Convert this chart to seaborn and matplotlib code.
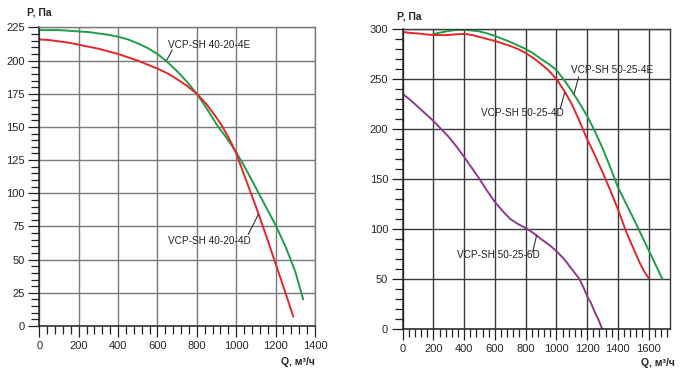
import numpy as np
import pandas as pd
import matplotlib
matplotlib.use('Agg')
import matplotlib.pyplot as plt
import seaborn as sns
from matplotlib.ticker import MultipleLocator

# left chart: VCP-SH 40-20
q_40_4e = [0, 50, 100, 150, 200, 250, 300, 350, 400, 450, 500, 550, 600, 650, 700, 750, 800,
           850, 900, 950, 1000, 1050, 1100, 1150, 1200, 1250, 1300, 1340]
p_40_4e = [223, 223, 223, 222.5, 222, 221.5, 220.5, 219.5, 218, 216, 213, 209.5, 205, 199, 192, 184, 175,
           164, 152, 142, 131, 118, 104, 90, 76, 60, 41, 20]
q_40_4d = [0, 50, 100, 150, 200, 250, 300, 350, 400, 450, 500, 550, 600, 650, 700, 750, 800,
           850, 875, 900, 925, 950, 975, 1000, 1050, 1100, 1150, 1200, 1250, 1290]
p_40_4d = [216, 215.5, 214.5, 213.5, 212, 210.5, 209, 207, 205, 202.5, 200, 197, 194, 190.5, 186, 181, 175,
           167, 162, 157, 151.5, 145, 138, 130, 110, 90, 69, 47, 25, 7]

# right chart: VCP-SH 50-25
q_50_4e = [200, 250, 300, 350, 400, 450, 500, 550, 600, 650, 700, 750, 800, 850, 900, 950, 1000,
           1050, 1100, 1150, 1200, 1250, 1300, 1350, 1400, 1500, 1600, 1690]
p_50_4e = [295, 296.5, 298, 299, 299, 298.5, 297.5, 295.5, 293, 290, 287, 283.5, 280, 275.5, 270, 265, 259,
           249, 238, 226, 213, 198, 181, 162, 142, 111, 79, 50]
q_50_4d = [0, 50, 100, 150, 200, 250, 300, 350, 400, 450, 500, 550, 600, 650, 700, 750, 800, 850, 900,
           950, 1000, 1050, 1100, 1150, 1200, 1250, 1300, 1350, 1400, 1450, 1500, 1540, 1570, 1600]
p_50_4d = [297, 296, 295.5, 294.5, 294, 293.8, 294, 294.7, 295, 294, 292, 290, 288, 285.5, 283, 280, 276, 271, 265,
           258.5, 250, 238.5, 225, 208, 190, 174, 157, 139, 120, 99, 81, 67, 58, 51]
q_50_6d = [0, 50, 100, 150, 200, 250, 300, 350, 400, 450, 500, 550, 600, 650, 700, 750, 800,
           850, 900, 950, 1000, 1050, 1100, 1150, 1175, 1200, 1225, 1250, 1275, 1298]
p_50_6d = [235, 229, 222, 215, 208, 200, 192, 182.5, 172, 161, 150, 138, 127, 118, 110, 105, 101,
           96, 90, 84.5, 78, 70, 60, 50, 42, 33, 26, 17, 9, 0]

GREEN = '#1f9e48'
RED = '#e3262b'
PURPLE = '#8e3a8c'

sns.set_style('white')
plt.rcParams['font.family'] = ['Liberation Sans', 'DejaVu Sans']

fig = plt.figure(figsize=(6.8, 3.76), dpi=100)
ax1 = fig.add_axes([0.0578, 0.133, 0.4054, 0.794])
ax2 = fig.add_axes([0.5922, 0.125, 0.3932, 0.798])


def style_axis(ax, xlim, ylim, xmaj, xmin, ymaj, ymin, gridcolor):
    ax.set_xlim(*xlim)
    ax.set_ylim(*ylim)
    ax.xaxis.set_major_locator(MultipleLocator(xmaj))
    ax.xaxis.set_minor_locator(MultipleLocator(xmin))
    ax.yaxis.set_major_locator(MultipleLocator(ymaj))
    ax.yaxis.set_minor_locator(MultipleLocator(ymin))
    ax.grid(True, which='major', color=gridcolor, lw=1.0)
    ax.set_axisbelow(True)
    ax.tick_params(which='major', direction='out', length=8, width=0.9,
                   color='#222222', labelsize=8, pad=2.5, left=True, bottom=True)
    ax.tick_params(which='minor', direction='out', length=5.5, width=0.9,
                   color='#222222', left=True, bottom=True)
    for side in ['left', 'bottom']:
        ax.spines[side].set_color('#222222')
        ax.spines[side].set_linewidth(1.1)
    for side in ['top', 'right']:
        ax.spines[side].set_color(gridcolor)
        ax.spines[side].set_linewidth(1.0)
    ax.set_xlabel('')
    ax.set_ylabel('')


def curve(ax, q, p, color):
    df = pd.DataFrame({'Q': q, 'P': p})
    sns.lineplot(data=df, x='Q', y='P', ax=ax, color=color, lw=1.4,
                 sort=False, estimator=None, solid_joinstyle='round')


def label(ax, text, txy, line):
    ax.text(txy[0], txy[1], text, fontsize=7.2, ha='left', va='center', color='#222222')
    ax.plot([line[0], line[2]], [line[1], line[3]], color='#333333', lw=0.8)


curve(ax1, q_40_4e, p_40_4e, GREEN)
curve(ax1, q_40_4d, p_40_4d, RED)
style_axis(ax1, (0, 1400), (0, 225), 200, 40, 25, 5, '#7a7a7a')
label(ax1, 'VCP-SH 40-20-4E', (653, 212), (675, 208, 646, 200))
label(ax1, 'VCP-SH 40-20-4D', (653, 64), (1061, 69, 1112, 84))

curve(ax2, q_50_4e, p_50_4e, GREEN)
curve(ax2, q_50_4d, p_50_4d, RED)
curve(ax2, q_50_6d, p_50_6d, PURPLE)
style_axis(ax2, (0, 1740), (0, 300), 200, 40, 50, 10, '#3a3a3a')
label(ax2, 'VCP-SH 50-25-4E', (1093, 259), (1145, 252, 1115, 235))
label(ax2, 'VCP-SH 50-25-4D', (511, 216), (1025, 220, 1055, 237))
label(ax2, 'VCP-SH 50-25-6D', (353, 74), (846, 77, 872, 94))

fig.text(0.040, 0.968, 'P, Па', fontsize=7.5, fontweight='bold', ha='left', va='center')
fig.text(0.584, 0.957, 'P, Па', fontsize=7.5, fontweight='bold', ha='left', va='center')
fig.text(0.463, 0.037, 'Q, м³/ч', fontsize=7.5, fontweight='bold', ha='right', va='center')
fig.text(0.993, 0.035, 'Q, м³/ч', fontsize=7.5, fontweight='bold', ha='right', va='center')

fig.savefig('out.png', dpi=100, facecolor='white')
